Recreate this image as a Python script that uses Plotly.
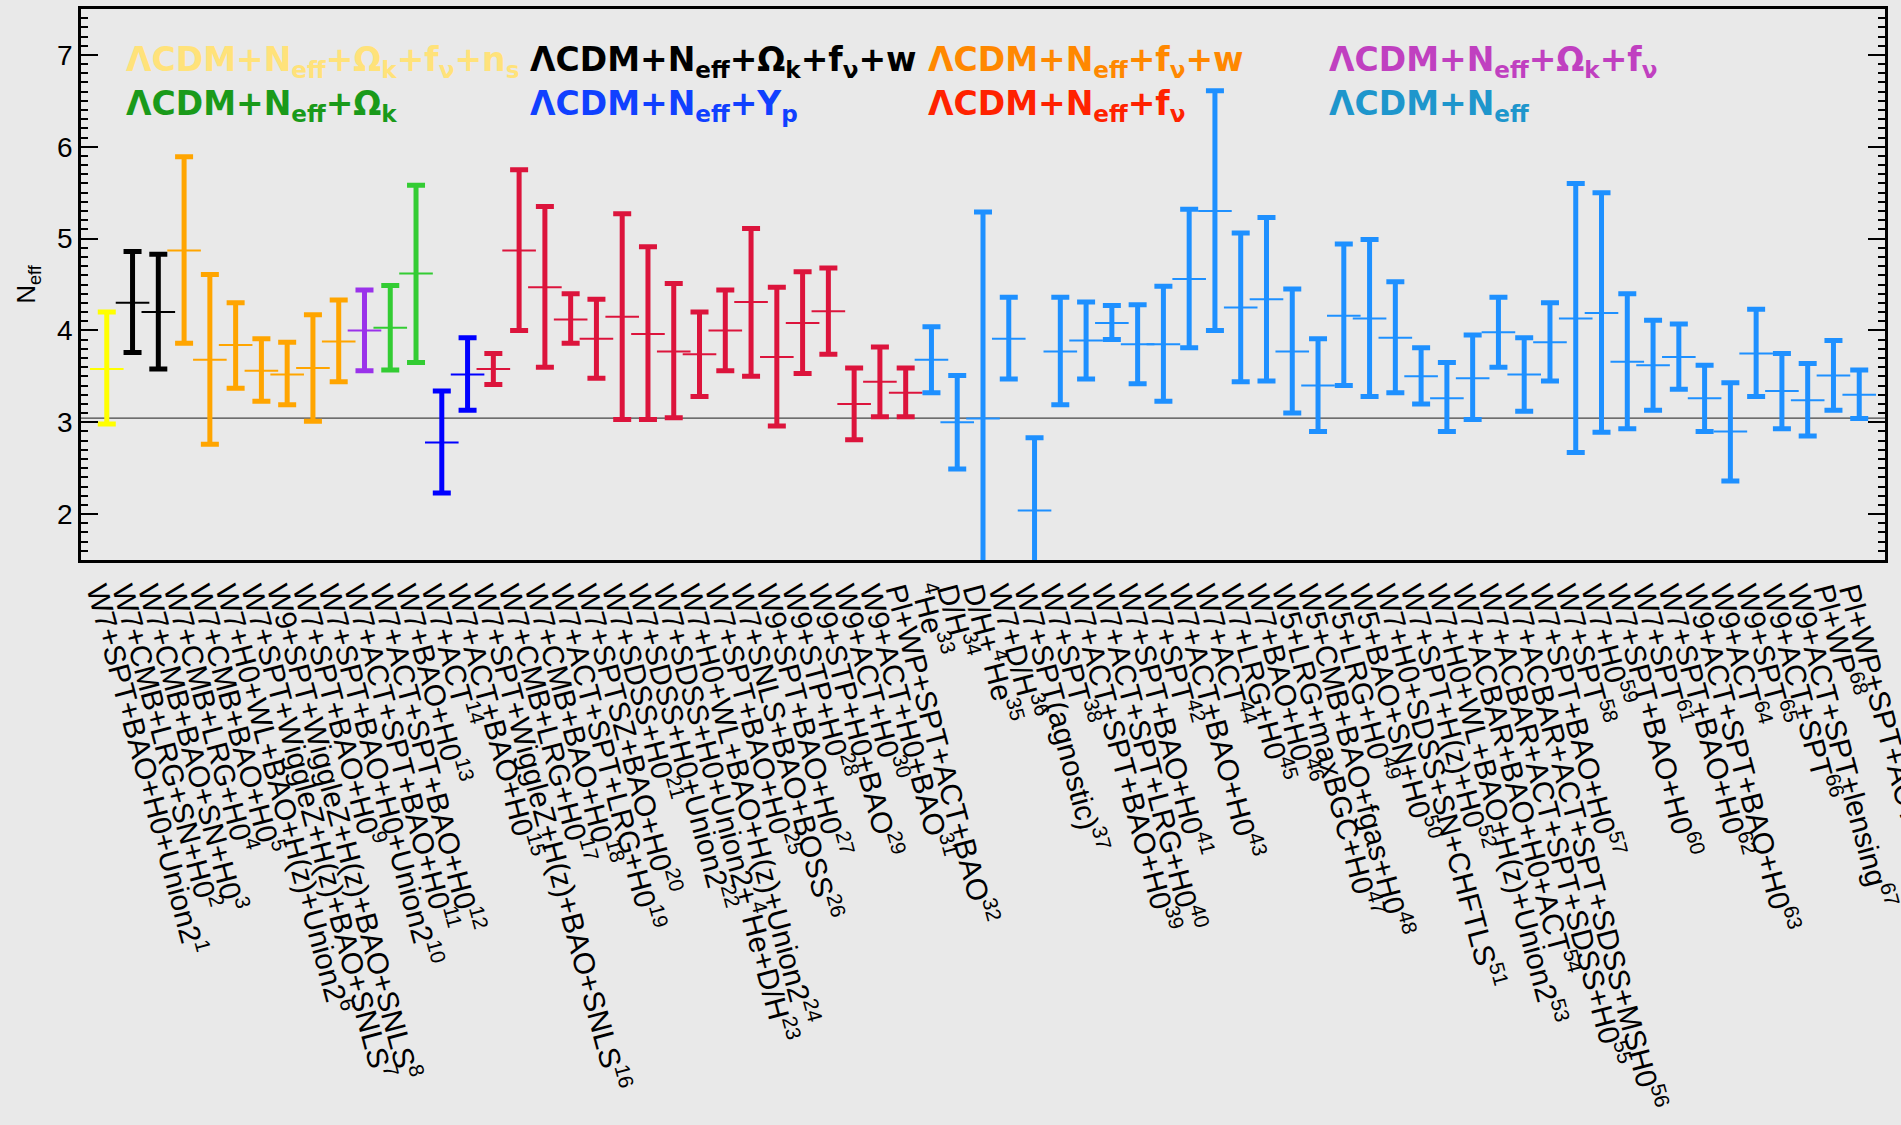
import plotly.graph_objects as go

# ---------------- data ----------------
label_names = [
    "W7+SPT+BAO+H0+Union2", "W7+CMB+LRG+SN+H0", "W7+CMB+BAO+SN+H0", "W7+CMB+LRG+H0",
    "W7+CMB+BAO+H0", "W7+H0+WL+BAO+H(z)+Union2", "W7+SPT+WiggleZ+H(z)+BAO+SNLS",
    "W9+SPT+WiggleZ+H(z)+BAO+SNLS", "W7+SPT+BAO+H0", "W7+SPT+BAO+H0+Union2",
    "W7+ACT+SPT+BAO+H0", "W7+ACT+SPT+BAO+H0", "W7+BAO+H0", "W7+ACT", "W7+ACT+BAO+H0",
    "W7+SPT+WiggleZ+H(z)+BAO+SNLS", "W7+CMB+LRG+H0", "W7+CMB+BAO+H0", "W7+ACT+SPT+LRG+H0",
    "W7+SPTSZ+BAO+H0", "W7+SDSS+H0", "W7+SDSS+H0+Union2",
    "W7+SDSS+H0+Union2+<sup>4</sup>He+D/H", "W7+H0+WL+BAO+H(z)+Union2", "W7+SPT+BAO+H0",
    "W7+SNLS+BAO+BOSS", "W9+SPT+BAO+H0", "W9+STP+H0", "W9+STP+H0+BAO", "W9+ACT+H0",
    "W9+ACT+H0+BAO", "Pl+WP+SPT+ACT+BAO", "<sup>4</sup>He", "D/H", "D/H+<sup>4</sup>He",
    "W7+D/H", "W7+SPT(agnostic)", "W7+SPT", "W7+ACT+SPT+BAO+H0", "W7+ACT+SPT+LRG+H0",
    "W7+SPT+BAO+H0", "W7+SPT", "W7+ACT+BAO+H0", "W7+ACT", "W7+LRG+H0", "W7+BAO+H0",
    "W5+LRG+maxBGC+H0", "W5+CMB+BAO+fgas+H0", "W5+LRG+H0", "W5+BAO+SN+H0",
    "W7+H0+SDSS+SN+CHFTLS", "W7+SPT+H(z)+H0", "W7+H0+WL+BAO+H(z)+Union2",
    "W7+ACBAR+BAO+H0+ACT", "W7+ACBAR+ACT+SPT+SDSS+H0", "W7+ACBAR+ACT+SPT+SDSS+MSH0",
    "W7+SPT+BAO+H0", "W7+SPT", "W7+H0", "W7+SPT+BAO+H0", "W7+SPT", "W7+SPT+BAO+H0",
    "W9+ACT+SPT+BAO+H0", "W9+ACT", "W9+SPT", "W9+ACT+SPT", "W9+ACT+SPT+lensing",
    "Pl+WP", "Pl+WP+SPT+ACT",
]
ref_numbers = list(range(1, 70))

neff_center = [
    3.58, 4.30, 4.20, 4.87, 3.68, 3.84, 3.56, 3.52, 3.59, 3.88,
    4.00, 4.03, 4.62, 2.78, 3.52, 3.58, 4.87, 4.47, 4.12, 3.91,
    4.15, 3.96, 3.77, 3.74, 4.00, 4.31, 3.71, 4.08, 4.21, 3.20,
    3.44, 3.32, 3.68, 3.00, 3.04, 3.91, 2.04, 3.77, 3.89, 4.08,
    3.85, 3.85, 4.56, 5.30, 4.25, 4.34, 3.77, 3.40, 4.16, 4.13,
    3.92, 3.50, 3.26, 3.48, 3.98, 3.52, 3.87, 4.13, 4.19, 3.66,
    3.62, 3.71, 3.26, 2.90, 3.75, 3.34, 3.24, 3.51, 3.30,
]
neff_upper = [
    4.20, 4.86, 4.83, 5.89, 4.61, 4.30, 3.91, 3.87, 4.17, 4.33,
    4.44, 4.49, 5.58, 3.34, 3.92, 3.75, 5.75, 5.35, 4.40, 4.34,
    5.27, 4.91, 4.51, 4.20, 4.44, 5.11, 4.47, 4.64, 4.68, 3.59,
    3.82, 3.59, 4.04, 3.51, 5.29, 4.36, 2.83, 4.36, 4.31, 4.27,
    4.28, 4.48, 5.32, 6.61, 5.06, 5.23, 4.45, 3.91, 4.94, 4.99,
    4.53, 3.81, 3.65, 3.95, 4.36, 3.92, 4.30, 5.60, 5.50, 4.40,
    4.11, 4.07, 3.62, 3.43, 4.23, 3.75, 3.64, 3.89, 3.57,
]
neff_lower = [
    2.98, 3.76, 3.58, 3.86, 2.76, 3.37, 3.23, 3.19, 3.01, 3.44,
    3.56, 3.57, 3.65, 2.23, 3.13, 3.41, 4.00, 3.60, 3.86, 3.48,
    3.03, 3.03, 3.05, 3.28, 3.56, 3.50, 2.96, 3.53, 3.74, 2.81,
    3.06, 3.06, 3.32, 2.49, 0.79, 3.47, 1.25, 3.19, 3.47, 3.90,
    3.42, 3.23, 3.81, 4.00, 3.44, 3.45, 3.10, 2.90, 3.40, 3.28,
    3.32, 3.20, 2.90, 3.03, 3.60, 3.12, 3.45, 2.67, 2.89, 2.93,
    3.13, 3.36, 2.90, 2.36, 3.28, 2.93, 2.85, 3.13, 3.04,
]
model = (["ns"] * 1 + ["w_ok"] * 2 + ["w"] * 7 + ["ok_fnu"] * 1 + ["ok"] * 2
         + ["yp"] * 2 + ["fnu"] * 17 + ["base"] * 37)

neff_standard = 3.046

model_order = ["ns", "w_ok", "w", "ok_fnu", "ok", "yp", "fnu", "base"]
bar_colors = {
    "ns": "#FFFF00", "w_ok": "#000000", "w": "#FFA500", "ok_fnu": "#9A32EA",
    "ok": "#33CC33", "yp": "#0000FF", "fnu": "#DC143C", "base": "#1E90FF",
}

legend_texts = [
    ("ΛCDM+N<sub>eff</sub>+Ω<sub>k</sub>+f<sub>ν</sub>+n<sub>s</sub>", "#FFE27A"),
    ("ΛCDM+N<sub>eff</sub>+Ω<sub>k</sub>+f<sub>ν</sub>+w", "#000000"),
    ("ΛCDM+N<sub>eff</sub>+f<sub>ν</sub>+w", "#FF8800"),
    ("ΛCDM+N<sub>eff</sub>+Ω<sub>k</sub>+f<sub>ν</sub>", "#C040C0"),
    ("ΛCDM+N<sub>eff</sub>+Ω<sub>k</sub>", "#1A9A1A"),
    ("ΛCDM+N<sub>eff</sub>+Y<sub>p</sub>", "#1040FF"),
    ("ΛCDM+N<sub>eff</sub>+f<sub>ν</sub>", "#FF2200"),
    ("ΛCDM+N<sub>eff</sub>", "#1E96CC"),
]

# ---------------- layout geometry (px) ----------------
W, H = 1901, 1125
L, R, T, B = 81, 1885, 9, 560
BG = "#e9e9e9"

positions = list(range(1, len(neff_center) + 1))
tick_text = [f"{n}<sup>{r}</sup>" for n, r in zip(label_names, ref_numbers)]

fig = go.Figure()

for m in model_order:
    idx = [i for i, g in enumerate(model) if g == m]
    col = bar_colors[m]
    fig.add_trace(go.Scatter(
        x=[positions[i] for i in idx],
        y=[neff_center[i] for i in idx],
        mode="markers",
        marker=dict(symbol="line-ew", size=24, color=col, line=dict(color=col, width=2)),
        error_y=dict(
            type="data", symmetric=False,
            array=[neff_upper[i] - neff_center[i] for i in idx],
            arrayminus=[neff_center[i] - neff_lower[i] for i in idx],
            color=col, thickness=5, width=9,
        ),
        showlegend=False,
        hoverinfo="skip",
    ))

fig.add_shape(type="line", xref="paper", yref="y", x0=0, x1=1,
              y0=neff_standard, y1=neff_standard,
              line=dict(color="#444444", width=1.2), layer="below")

def px2paper_x(px):
    return (px - L) / (R - L)

def px2paper_y(py):
    return (B - py) / (B - T)

legend_pos = [(124, 61), (528, 61), (926, 61), (1327, 61),
              (124, 105), (528, 105), (926, 105), (1327, 105)]
for (txt, col), (px, py) in zip(legend_texts, legend_pos):
    fig.add_annotation(
        text=f"<b>{txt}</b>", x=px2paper_x(px), y=px2paper_y(py),
        xref="paper", yref="paper", xanchor="left", yanchor="middle",
        showarrow=False, font=dict(family="DejaVu Sans", size=33, color=col),
    )

fig.update_layout(
    width=W, height=H,
    margin=dict(l=L, r=W - R, t=T, b=H - B, pad=0),
    paper_bgcolor=BG, plot_bgcolor=BG,
    font=dict(family="Liberation Sans, Arial", color="black"),
    xaxis=dict(
        range=[0, len(positions) + 1], tickmode="array", tickvals=positions,
        ticktext=tick_text, tickangle=75, ticks="",
        tickfont=dict(family="Liberation Sans, Arial", size=30, color="black"),
        ticklabeloverflow="allow", ticklabelshift=-6,
        showgrid=False, zeroline=False, showline=True, linecolor="black",
        linewidth=2.5, mirror=True, automargin=False,
    ),
    xaxis2=dict(
        overlaying="x", anchor="y", side="bottom", matches="x",
        range=[0, len(positions) + 1], tickmode="linear", tick0=0, dtick=2,
        ticks="inside", ticklen=16, tickwidth=2, tickcolor="black",
        showticklabels=False, showgrid=False, zeroline=False,
        showline=True, linecolor="black", linewidth=2.5, mirror="ticks",
    ),
    yaxis=dict(
        range=[1.5, 7.5], tickmode="linear", tick0=0, dtick=1,
        ticks="inside", ticklen=17, tickwidth=2, tickcolor="black",
        minor=dict(ticks="inside", dtick=0.1, tick0=0, ticklen=7, tickwidth=1.5,
                   tickcolor="black", showgrid=False),
        tickfont=dict(family="Liberation Sans, Arial", size=28, color="black"),
        showgrid=False, zeroline=False, showline=True, linecolor="black",
        linewidth=2.5, mirror="ticks", automargin=False,
        title=dict(text="N<sub>eff</sub>", font=dict(family="Liberation Sans, Arial", size=26),
                   standoff=14),
    ),
)

fig.write_html(
    "out.html",
    config={"displayModeBar": False},
    post_script="document.body.style.margin='0';document.body.style.overflow='hidden';",
)
